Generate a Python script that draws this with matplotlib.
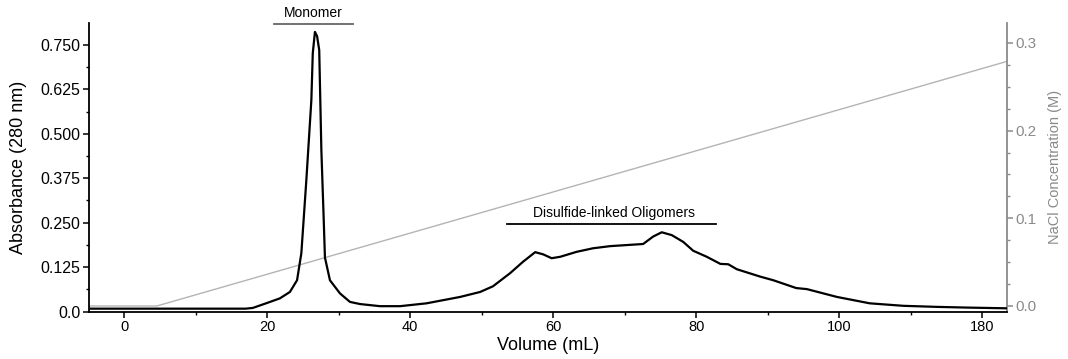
import numpy as np
import matplotlib
matplotlib.use("Agg")
import matplotlib.pyplot as plt
from matplotlib.ticker import MultipleLocator

plt.rcParams['font.family'] = ['Liberation Sans', 'DejaVu Sans']

# Absorbance trace (280 nm)
volume = [-5, 0, 10, 17, 18, 20, 21.8, 23.2, 24.2, 24.8, 25.5, 26.2, 26.4, 26.7,
          27.0, 27.3, 27.6, 27.9, 28.1, 28.8, 30.2, 31.6, 33, 35.8, 38.6, 42.3, 47,
          49.8, 51.6, 54, 55.8, 57.5, 58.6, 59.8, 61, 63.3, 65.6, 68, 70.3, 72.6,
          74, 75.2, 76.6, 78.2, 79.6, 81.5, 83.4, 84.5, 85.7, 89, 90.8, 94, 95.5,
          99.7, 104.3, 109, 113.7, 118, 123.5]
absorbance = [0.008, 0.008, 0.008, 0.008, 0.010, 0.024, 0.037, 0.055, 0.088, 0.164,
              0.37, 0.595, 0.727, 0.787, 0.775, 0.736, 0.454, 0.276, 0.152, 0.088,
              0.051, 0.027, 0.021, 0.015, 0.015, 0.023, 0.041, 0.055, 0.071, 0.108,
              0.140, 0.167, 0.161, 0.150, 0.154, 0.168, 0.178, 0.184, 0.187, 0.190,
              0.211, 0.223, 0.215, 0.196, 0.171, 0.154, 0.134, 0.133, 0.119, 0.098,
              0.088, 0.066, 0.063, 0.041, 0.023, 0.016, 0.013, 0.011, 0.009]

# NaCl gradient
nacl_volume = [-5, 4.6, 123.5]
nacl_conc = [0.0, 0.0, 0.279]

x_ticks = [0, 20, 40, 60, 80, 100, 120]
x_tick_labels = ["0", "20", "40", "60", "80", "100", "180"]
y_ticks = [0.0, 0.125, 0.250, 0.375, 0.500, 0.625, 0.750]
y_tick_labels = ["0.0", "0.125", "0.250", "0.375", "0.500", "0.625", "0.750"]
nacl_ticks = [0.0, 0.1, 0.2, 0.3]
nacl_tick_labels = ["0.0", "0.1", "0.2", "0.3"]

gray = "#8a8a8a"

fig = plt.figure(figsize=(10.68, 3.59), dpi=100)
ax = fig.add_axes([0.0833, 0.1323, 0.943 - 0.0833, 0.9359 - 0.1323])
ax2 = ax.twinx()

ax2.plot(nacl_volume, nacl_conc, color="#b4b4b4", lw=1.0, zorder=1)
ax.plot(volume, absorbance, color="black", lw=1.6, zorder=3)
ax.set_zorder(ax2.get_zorder() + 1)
ax.patch.set_visible(False)

ax.set_xlim(-4.9, 123.5)
ax.set_ylim(0, 0.812)
ax2.set_ylim(-0.0063, 0.3227)

ax.set_xticks(x_ticks)
ax.set_xticklabels(x_tick_labels)
ax.set_yticks(y_ticks)
ax.set_yticklabels(y_tick_labels)
ax.xaxis.set_minor_locator(MultipleLocator(10))
ax.yaxis.set_minor_locator(MultipleLocator(0.0625))
ax2.set_yticks(nacl_ticks)
ax2.set_yticklabels(nacl_tick_labels)
ax2.yaxis.set_minor_locator(MultipleLocator(0.025))

ax.spines["top"].set_visible(False)
ax2.spines["top"].set_visible(False)
ax.spines["right"].set_visible(False)
ax2.spines["left"].set_visible(False)
ax2.spines["bottom"].set_visible(False)
for s in ["left", "bottom"]:
    ax.spines[s].set_linewidth(1.3)
ax2.spines["right"].set_color(gray)
ax2.spines["right"].set_linewidth(1.3)

ax.tick_params(axis="both", which="major", direction="out", length=4, width=1.1, pad=2)
ax.tick_params(axis="x", labelsize=10.5)
ax.tick_params(axis="y", labelsize=11.5)
ax.tick_params(axis="both", which="minor", direction="out", length=2.5, width=1.0)
ax2.tick_params(axis="y", which="major", direction="out", length=4, width=1.1,
                labelsize=11, colors=gray, pad=2)
ax2.tick_params(axis="y", which="minor", direction="out", length=2.5, width=1.0,
                colors=gray)

ax.set_xlabel("Volume (mL)", fontsize=13, labelpad=2)
ax.set_ylabel("Absorbance (280 nm)", fontsize=13, labelpad=10)
ax2.set_ylabel("NaCl Concentration (M)", fontsize=10.5, color=gray, labelpad=8)

# peak annotations
ax.plot([21, 32], [0.809, 0.809], color="#666666", lw=1.3, clip_on=False)
ax.text(26.5, 0.82, "Monomer", ha="center", va="bottom", fontsize=10, clip_on=False)
ax.plot([53.5, 82.8], [0.245, 0.245], color="black", lw=1.3)
ax.text(68.5, 0.258, "Disulfide-linked Oligomers", ha="center", va="bottom",
        fontsize=10)

fig.savefig("out.png", dpi=100)
